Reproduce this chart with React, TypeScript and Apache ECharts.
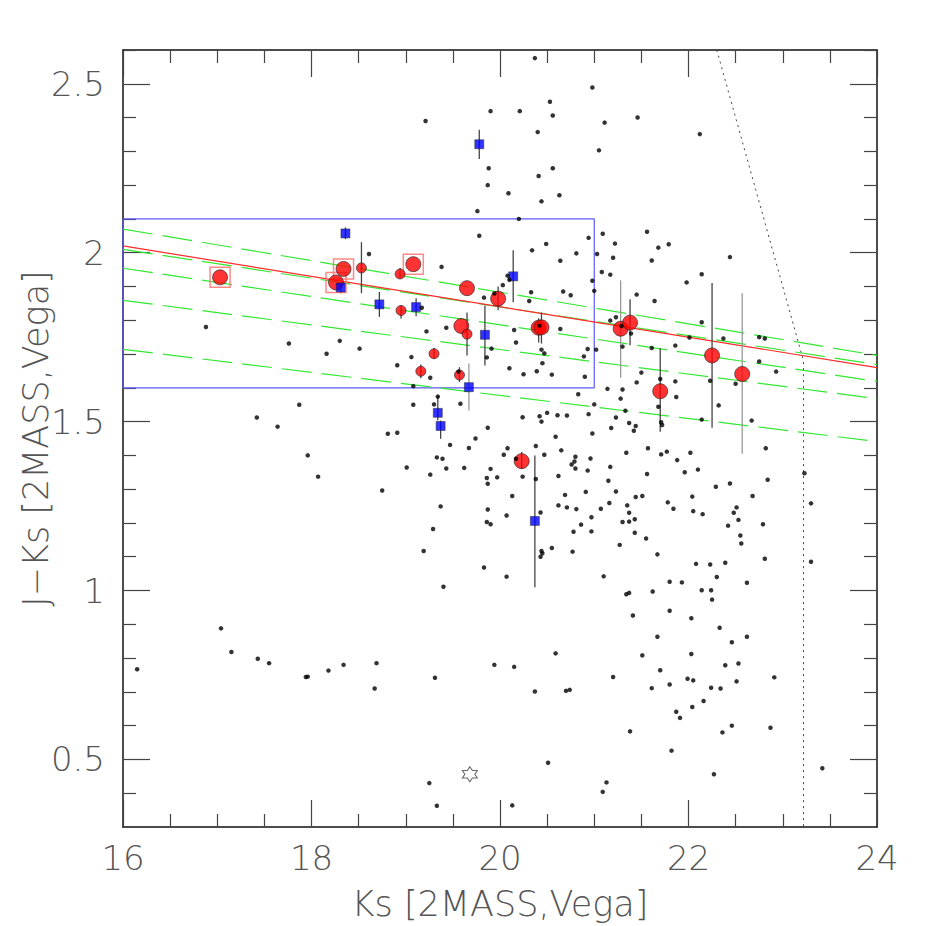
import React, { useEffect, useRef } from "react";
import * as echarts from "echarts";

// ---------- data (Ks, J-Ks) ----------
const xTicks = [16, 18, 20, 22, 24];
const yMajorTicks = [0.5, 1, 1.5, 2, 2.5];
const yMinorTicks = [0.4, 0.6, 0.7, 0.8, 0.9, 1.1, 1.2, 1.3, 1.4, 1.6, 1.7, 1.8, 1.9, 2.1, 2.2, 2.3, 2.4, 2.6];

const blackDots: number[][] = [
  [19.21, 2.39], [19.9, 2.419], [19.88, 2.25], [19.87, 2.2], [19.76, 2.123], [19.78, 2.05], [18.61, 1.996], [19.38, 1.958], [19.83, 1.867], [20.03, 1.904], [19.94, 1.879], [19.17, 1.837],
  [20.37, 2.576], [20.98, 2.489], [20.53, 2.447], [20.21, 2.419], [20.56, 2.406], [21.11, 2.385], [21.46, 2.4], [20.4, 2.357], [21.05, 2.303], [20.56, 2.25], [20.41, 2.227], [20.09, 2.176], [20.44, 2.152], [20.63, 2.17], [20.2, 2.1], [20.94, 2.044], [21.09, 2.056], [21.56, 2.062], [20.34, 2.007], [20.49, 2.026], [21.22, 2.027], [21.68, 2.015], [21.79, 2.025], [20.81, 1.998], [20.64, 1.976], [21.03, 1.996], [21.2, 1.985], [21.61, 1.977], [21.08, 1.943], [21.17, 1.935], [20.98, 1.917], [21.0, 1.887], [21.98, 1.912], [21.45, 1.876], [21.64, 1.857], [20.08, 1.932], [20.1, 1.92], [20.33, 1.883], [20.31, 1.857], [20.67, 1.885], [20.75, 1.874],
  [22.12, 2.351], [22.44, 1.987], [22.14, 1.936],
  [16.88, 1.78], [17.76, 1.731], [17.87, 1.55], [17.42, 1.512], [17.64, 1.485], [17.96, 1.4],
  [19.22, 1.767], [19.43, 1.778], [18.3, 1.739], [18.51, 1.716], [18.16, 1.701], [19.06, 1.691], [19.91, 1.716], [19.86, 1.69], [18.91, 1.667], [19.26, 1.63], [19.56, 1.648], [19.08, 1.605], [19.34, 1.574], [19.08, 1.55], [19.3, 1.551], [19.58, 1.553], [19.87, 1.482], [19.74, 1.45], [19.47, 1.431], [19.67, 1.422], [18.81, 1.464], [18.91, 1.467], [20.04, 1.402], [19.33, 1.394], [19.39, 1.39], [19.01, 1.364], [19.43, 1.361], [19.62, 1.363], [19.9, 1.36], [18.07, 1.337], [19.26, 1.343], [19.86, 1.333], [19.97, 1.335], [19.87, 1.316], [18.75, 1.296], [19.37, 1.249], [19.87, 1.24], [19.86, 1.203], [19.9, 1.196], [19.29, 1.182], [19.19, 1.117], [19.83, 1.068],
  [21.17, 1.799], [21.23, 1.809], [21.29, 1.783], [21.39, 1.761], [20.42, 1.784], [20.15, 1.771], [20.64, 1.774], [20.17, 1.734], [20.44, 1.713], [20.47, 1.702], [20.93, 1.715], [20.89, 1.693], [21.02, 1.713], [21.3, 1.722], [21.61, 1.718], [21.86, 1.725], [22.01, 1.749], [20.45, 1.673], [20.1, 1.658], [20.25, 1.64], [20.39, 1.649], [20.55, 1.639], [20.9, 1.633], [21.5, 1.645], [21.45, 1.616], [21.7, 1.626], [21.86, 1.619], [21.87, 1.573], [21.14, 1.597], [21.3, 1.595], [21.28, 1.568], [20.83, 1.581], [21.0, 1.551], [21.33, 1.532], [21.68, 1.544], [20.24, 1.513], [20.42, 1.516], [20.5, 1.526], [20.44, 1.5], [20.61, 1.519], [20.71, 1.518], [20.94, 1.522], [21.23, 1.512], [21.37, 1.496], [21.44, 1.487], [21.42, 1.473], [21.18, 1.481], [20.98, 1.465], [21.71, 1.498], [21.72, 1.49], [20.59, 1.455], [20.08, 1.421], [20.38, 1.428], [20.17, 1.39], [20.47, 1.402], [20.65, 1.415], [20.8, 1.396], [20.79, 1.382], [20.76, 1.373], [20.8, 1.361], [20.96, 1.391], [21.34, 1.408], [21.57, 1.421], [21.71, 1.403], [21.77, 1.411], [22.02, 1.408], [21.88, 1.386], [21.96, 1.35], [21.17, 1.366], [20.93, 1.355], [20.24, 1.337], [20.38, 1.33], [20.62, 1.339], [21.56, 1.345], [21.15, 1.325], [20.91, 1.292], [21.23, 1.293], [20.13, 1.28], [20.69, 1.283], [21.44, 1.277], [21.51, 1.28], [22.04, 1.278], [20.62, 1.252], [20.71, 1.246], [20.81, 1.241], [21.16, 1.259], [21.35, 1.252], [21.07, 1.242], [21.78, 1.261], [21.84, 1.242], [22.05, 1.235], [20.07, 1.222], [20.43, 1.231], [21.37, 1.23], [20.97, 1.217], [21.3, 1.203], [21.37, 1.204], [21.43, 1.211], [20.86, 1.195], [20.78, 1.174], [20.97, 1.175], [21.43, 1.171], [21.55, 1.154], [21.27, 1.135], [21.67, 1.107], [20.55, 1.126], [20.77, 1.115], [20.44, 1.117], [20.45, 1.11], [20.43, 1.1],
  [22.14, 1.794], [22.37, 1.746], [22.75, 1.75], [22.81, 1.746], [22.75, 1.678], [22.93, 1.648], [22.23, 1.621], [22.5, 1.612], [22.32, 1.548], [22.14, 1.506], [22.67, 1.503], [22.82, 1.421], [22.1, 1.358], [23.23, 1.347], [22.84, 1.328], [22.44, 1.317], [22.29, 1.307], [22.68, 1.28], [23.3, 1.258], [22.15, 1.226], [22.51, 1.246], [22.48, 1.23], [22.53, 1.209], [22.42, 1.192], [22.79, 1.196], [22.55, 1.163], [22.56, 1.139], [22.08, 1.079], [22.23, 1.077], [22.39, 1.082], [22.81, 1.094], [23.3, 1.085],
  [16.15, 0.767], [17.04, 0.888], [17.15, 0.818], [17.43, 0.798], [17.55, 0.785], [17.94, 0.744], [17.96, 0.745],
  [19.4, 1.011], [18.18, 0.763], [18.34, 0.78], [18.69, 0.785], [19.94, 0.78], [19.31, 0.742], [18.67, 0.71], [19.25, 0.43], [19.33, 0.363],
  [20.07, 1.041], [21.1, 1.042], [21.8, 1.026], [21.93, 1.024], [21.34, 0.989], [21.37, 0.993], [21.62, 0.997], [21.8, 0.94], [21.41, 0.926], [22.03, 0.918], [21.67, 0.863], [20.59, 0.814], [21.51, 0.808], [22.03, 0.812], [20.15, 0.774], [21.7, 0.764], [21.2, 0.744], [21.99, 0.739], [22.05, 0.734], [20.37, 0.701], [20.7, 0.703], [20.74, 0.706], [21.61, 0.711], [21.8, 0.722], [22.04, 0.655], [21.87, 0.641], [21.91, 0.623], [21.38, 0.583], [21.82, 0.526], [20.51, 0.49], [21.13, 0.432], [21.09, 0.404], [20.13, 0.364],
  [22.3, 1.04], [22.62, 1.023], [22.14, 1.001], [22.24, 1.001], [22.25, 0.973], [22.33, 0.89], [22.62, 0.863], [22.46, 0.847], [22.39, 0.779], [22.53, 0.784], [22.91, 0.743], [22.24, 0.712], [22.34, 0.71], [22.51, 0.731], [22.16, 0.673], [22.46, 0.6], [22.36, 0.58], [22.87, 0.594], [23.42, 0.474], [22.27, 0.456],
];

const redBig: number[][] = [
  [17.03, 1.927], [18.26, 1.912], [18.34, 1.952], [19.08, 1.966], [19.65, 1.895], [19.98, 1.864],
  [19.59, 1.783], [20.41, 1.778], [20.44, 1.779], [21.28, 1.775], [21.38, 1.793], [21.7, 1.59],
  [20.23, 1.383], [22.25, 1.696], [22.57, 1.641],
];
const redSmall: number[][] = [
  [18.53, 1.955], [18.94, 1.937], [18.95, 1.829], [19.3, 1.701], [19.16, 1.649], [19.57, 1.638], [19.65, 1.759],
];
const boxed: number[][] = [[17.03, 1.927], [18.26, 1.912], [18.34, 1.952], [19.08, 1.966]];

const blueSquares: number[][] = [
  [18.36, 2.057], [19.78, 2.321], [18.31, 1.897], [18.72, 1.847], [19.11, 1.839], [20.14, 1.93],
  [19.84, 1.757], [19.67, 1.602], [19.34, 1.526], [19.37, 1.487], [20.37, 1.206],
];

// error bars: [Ks, low, high]
const errDark: number[][] = [
  [18.53, 1.88, 2.031], [18.94, 1.925, 1.955], [18.95, 1.805, 1.844], [19.65, 1.696, 1.823],
  [20.41, 1.734, 1.806], [20.44, 1.731, 1.823], [21.38, 1.726, 1.862], [21.7, 1.47, 1.717],
  [20.23, 1.36, 1.41], [22.25, 1.482, 1.91], [19.98, 1.83, 1.9], [19.57, 1.617, 1.661],
  [19.3, 1.686, 1.718], [19.16, 1.628, 1.669],
  [18.36, 2.04, 2.075], [19.78, 2.277, 2.364], [18.31, 1.88, 1.91], [18.72, 1.81, 1.884],
  [19.11, 1.812, 1.865], [20.14, 1.853, 2.007], [19.84, 1.666, 1.844], [19.34, 1.503, 1.577],
  [19.37, 1.449, 1.503], [20.37, 1.01, 1.4],
];
const errLight: number[][] = [
  [21.28, 1.63, 1.918], [22.57, 1.405, 1.88], [19.67, 1.533, 1.672],
];

const starPoint: number[][] = [[19.68, 0.456]];

const redLine: number[][] = [[16, 2.02], [24, 1.66]];
const greenLines: number[][][] = [
  [[16, 2.07], [24, 1.696]],
  [[16, 2.01], [24, 1.669]],
  [[16, 1.954], [24, 1.619]],
  [[16, 1.859], [24, 1.568]],
  [[16, 1.714], [24, 1.441]],
];
const selectionBox: number[][] = [[16, 1.6], [21, 1.6], [21, 2.1], [16, 2.1], [16, 1.6]];
const limitLine: number[][] = [[22.3, 2.6], [23.22, 1.68], [23.22, 0.3]];

const STAR = "path://M0,-10 L2.9,-5.02 L8.66,-5 L5.8,0 L8.66,5 L2.9,5.02 L0,10 L-2.9,5.02 L-8.66,5 L-5.8,0 L-8.66,-5 L-2.9,-5.02 Z";

export default function App() {
  const ref = useRef<HTMLDivElement>(null);
  useEffect(() => {
    if (!ref.current) return;
    const chart = echarts.init(ref.current, null, { renderer: "svg" });
    const font = { fontFamily: "DejaVu Sans", fontWeight: 200 as any, color: "#555" };
    const frame = { show: true, onZero: false, lineStyle: { color: "#111", width: 1.5 } };
    const tickStyle = { color: "#444", width: 1.2 };
    const errSeries = (data: number[][], color: string) => ({
      type: "custom",
      coordinateSystem: "cartesian2d",
      xAxisIndex: 0,
      yAxisIndex: 0,
      silent: true,
      z: 3,
      encode: { x: 0, y: [1, 2] },
      renderItem: (_p: any, api: any) => {
        const x = api.value(0);
        const a = api.coord([x, api.value(1)]);
        const b = api.coord([x, api.value(2)]);
        return {
          type: "line",
          shape: { x1: a[0], y1: a[1], x2: b[0], y2: b[1] },
          style: { stroke: color, lineWidth: 1.3 },
        };
      },
      data,
    });
    const yBase = { type: "value", min: 0.3, max: 2.6, splitLine: { show: false } };
    chart.setOption({
      animation: false,
      backgroundColor: "#fff",
      grid: { left: 123, right: 49, top: 50, bottom: 99, containLabel: false, outerBoundsMode: "none" },
      xAxis: [
        {
          type: "value", min: xTicks[0], max: xTicks[xTicks.length - 1], interval: 2, position: "bottom",
          axisLine: frame,
          axisTick: { inside: true, length: 27, lineStyle: tickStyle },
          minorTick: { show: true, splitNumber: 4, length: 13, lineStyle: tickStyle },
          splitLine: { show: false }, minorSplitLine: { show: false },
          axisLabel: { ...font, fontSize: 34, margin: 14 },
          name: "Ks [2MASS,Vega]", nameLocation: "middle", nameGap: 59, nameMoveOverlap: false,
          nameTextStyle: { ...font, fontSize: 35 },
        },
        {
          type: "value", min: xTicks[0], max: xTicks[xTicks.length - 1], interval: 2, position: "top",
          axisLine: frame,
          axisTick: { inside: true, length: 27, lineStyle: tickStyle },
          minorTick: { show: true, splitNumber: 4, length: 13, lineStyle: tickStyle },
          splitLine: { show: false },
          axisLabel: { show: false },
        },
      ],
      yAxis: [
        {
          ...yBase, position: "left",
          axisLine: frame,
          axisTick: { inside: true, length: 27, lineStyle: tickStyle, customValues: yMajorTicks },
          axisLabel: { ...font, fontSize: 34, margin: 18, customValues: yMajorTicks },
          name: "J\u2212Ks [2MASS,Vega]", nameLocation: "middle", nameGap: 70, nameMoveOverlap: false,
          nameTextStyle: { ...font, fontSize: 35 },
        },
        {
          ...yBase, position: "left",
          axisLine: { show: false },
          axisTick: { inside: true, length: 13, lineStyle: tickStyle, customValues: yMinorTicks },
          axisLabel: { show: false },
        },
        {
          ...yBase, position: "right",
          axisLine: frame,
          axisTick: { inside: true, length: 27, lineStyle: tickStyle, customValues: yMajorTicks },
          axisLabel: { show: false },
        },
        {
          ...yBase, position: "right",
          axisLine: { show: false },
          axisTick: { inside: true, length: 13, lineStyle: tickStyle, customValues: yMinorTicks },
          axisLabel: { show: false },
        },
      ],
      series: [
        {
          type: "line", data: selectionBox, showSymbol: false, silent: true, z: 1,
          lineStyle: { color: "#5a5aff", width: 1.2 },
        },
        ...greenLines.map((g) => ({
          type: "line", data: g, showSymbol: false, silent: true, z: 1,
          lineStyle: { color: "#33e833", width: 1.2, type: [30, 10] },
        })),
        {
          type: "line", data: redLine, showSymbol: false, silent: true, z: 1,
          lineStyle: { color: "#ff2a2a", width: 1.2 },
        },
        {
          type: "line", data: limitLine, showSymbol: false, silent: true, z: 1,
          lineStyle: { color: "#444", width: 1, type: [2, 4] },
        },
        errSeries(errDark, "#444"),
        errSeries(errLight, "#999"),
        {
          type: "scatter", data: boxed, symbol: "rect", symbolSize: 20, silent: true, z: 4,
          itemStyle: { color: "rgba(0,0,0,0)", borderColor: "#ff6a6a", borderWidth: 1.5 },
        },
        {
          type: "scatter", data: redBig, symbol: "circle", symbolSize: 15, silent: true, z: 5,
          itemStyle: { color: "#ff0000", borderColor: "#222", borderWidth: 0.8 },
        },
        {
          type: "scatter", data: redSmall, symbol: "circle", symbolSize: 10, silent: true, z: 5,
          itemStyle: { color: "#ff0000", borderColor: "#222", borderWidth: 0.8 },
        },
        {
          type: "scatter", data: blueSquares, symbol: "rect", symbolSize: 9, silent: true, z: 6,
          itemStyle: { color: "#0000ff", borderColor: "#222", borderWidth: 0.6 },
        },
        {
          type: "scatter", data: blackDots, symbol: "circle", symbolSize: 4.5, silent: true, z: 7,
          itemStyle: { color: "#000" },
        },
        {
          type: "scatter", data: starPoint, symbol: STAR, symbolSize: 15, silent: true, z: 7,
          itemStyle: { color: "#fff", borderColor: "#444", borderWidth: 1.1 },
        },
      ],
    });
    return () => chart.dispose();
  }, []);
  return (
    <div
      ref={ref}
      style={{ position: "fixed", left: 0, top: 0, width: 926, height: 926, background: "#fff" }}
    />
  );
}
